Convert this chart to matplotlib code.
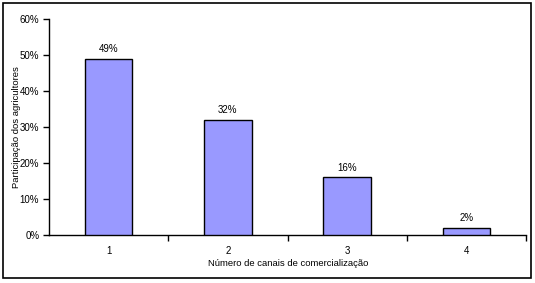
import matplotlib.pyplot as plt
from matplotlib.patches import Rectangle

categories = ['1', '2', '3', '4']
values = [49, 32, 16, 2]
labels = ['49%', '32%', '16%', '2%']

plt.rcParams['font.family'] = 'Liberation Sans'

fig = plt.figure(figsize=(5.35, 2.83), dpi=100)
ax = fig.add_axes([49 / 535, 48 / 283, 477 / 535, 216 / 283])

x = list(range(len(categories)))
ax.bar(x, values, width=0.4, color='#9999FF', edgecolor='black', linewidth=1.0, zorder=3)

for xi, v, lab in zip(x, values, labels):
    ax.text(xi, v + 1.2, lab, ha='center', va='bottom', fontsize=7)

ax.set_xlim(-0.5, 3.5)
ax.set_ylim(0, 60)
ax.set_yticks(range(0, 61, 10))
ax.set_yticklabels([f'{t}%' for t in range(0, 61, 10)], fontsize=7)

ax.set_xticks([0.5, 1.5, 2.5, 3.5])
ax.set_xticklabels([])
ax.set_xticks(x, minor=True)
ax.set_xticklabels(categories, minor=True, fontsize=7)
ax.tick_params(axis='x', which='minor', length=0, pad=8)
ax.tick_params(axis='both', which='major', length=4, width=1, direction='out')
ax.tick_params(axis='y', pad=3)

ax.spines['top'].set_visible(False)
ax.spines['right'].set_visible(False)
ax.spines['left'].set_linewidth(1)
ax.spines['bottom'].set_linewidth(1)

ax.set_xlabel('Número de canais de comercialização', fontsize=6.8)
ax.set_ylabel('Participação dos agricultores', fontsize=6.8)
ax.xaxis.set_label_coords((288 - 49) / 477, (235 - 264) / 216)
ax.yaxis.set_label_coords((17 - 49) / 477, (235 - 127) / 216)
ax.xaxis.label.set_va('center')
ax.yaxis.label.set_va('center')

fig.patches.append(Rectangle((3 / 535, 5 / 283), 528 / 535, 275 / 283, transform=fig.transFigure,
                             fill=False, edgecolor='black', linewidth=1.2))

fig.savefig('out.png', dpi=100)
